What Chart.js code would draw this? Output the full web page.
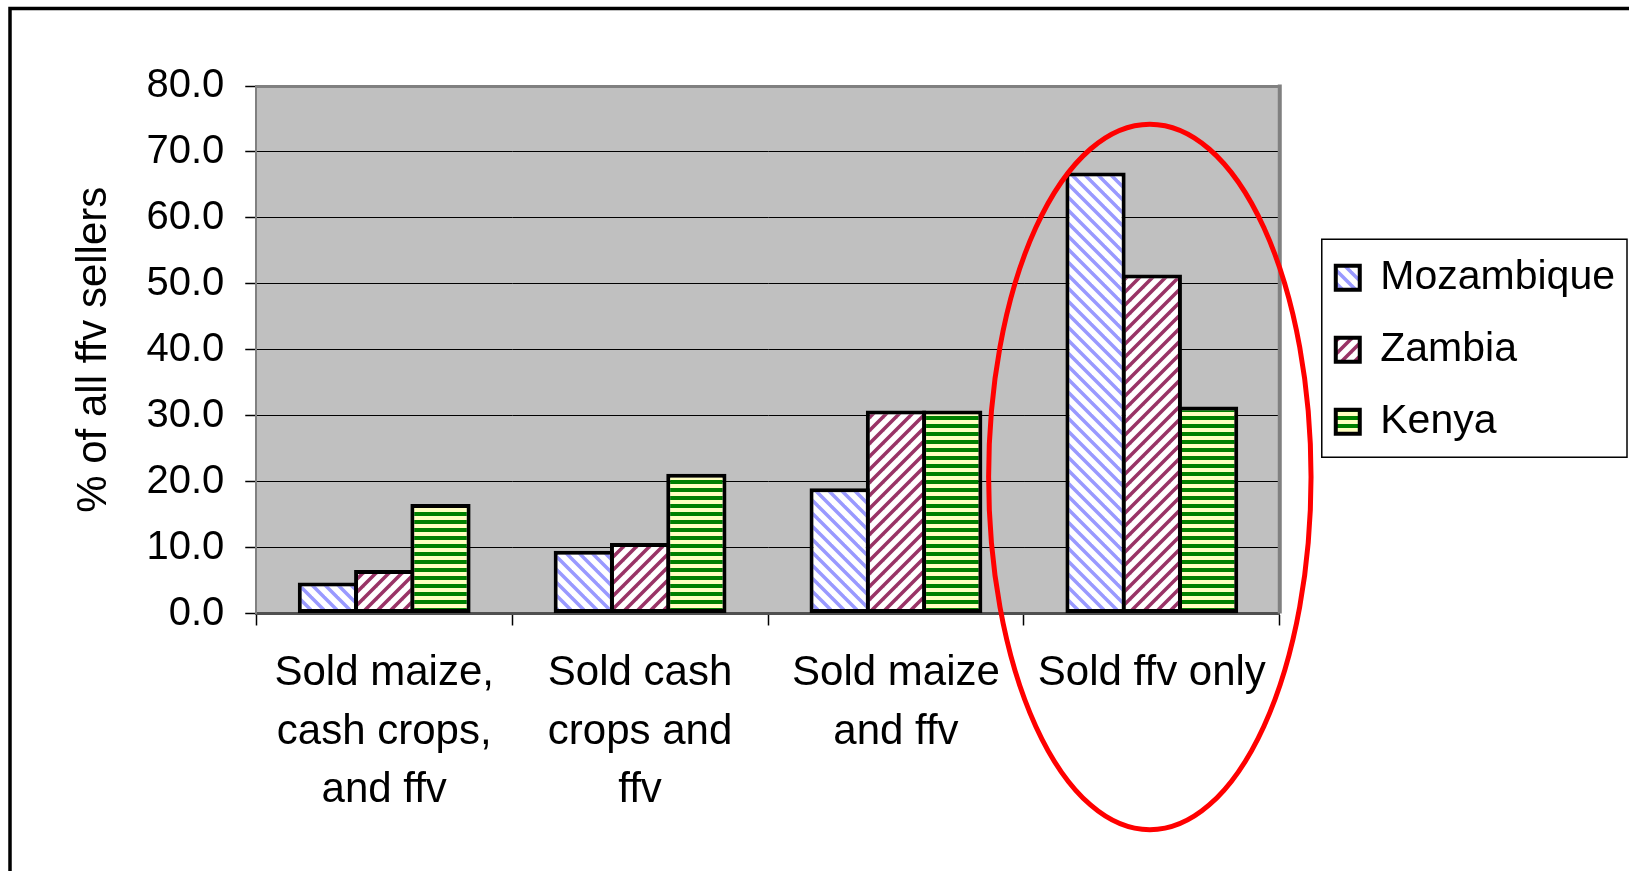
<!DOCTYPE html>
<html>
<head>
<meta charset="utf-8">
<script src="https://cdn.jsdelivr.net/npm/chart.js@4.4.1/dist/chart.umd.min.js"></script>
<style>
  html, body { margin: 0; padding: 0; background: #fff; }
</style>
</head>
<body>
<canvas id="myChart" width="1629" height="871"></canvas>
<script>
// data
const categories = [
  ["Sold maize,", "cash crops,", "and ffv"],
  ["Sold cash", "crops and", "ffv"],
  ["Sold maize", "and ffv"],
  ["Sold ffv only"]
];
const seriesNames = ["Mozambique", "Zambia", "Kenya"];
const mozambique = [4.7, 9.5, 19.0, 66.9];
const zambia = [6.6, 10.7, 30.8, 51.4];
const kenya = [16.6, 21.2, 30.8, 31.4];
const yTicks = [0, 10, 20, 30, 40, 50, 60, 70, 80];
const yTitle = "% of all ffv sellers";

const FONT = "'Liberation Sans', Arial, sans-serif";

// excel style fill patterns
function hatch(color, dir) {
  const s = 13;
  const c = document.createElement("canvas");
  c.width = s; c.height = s;
  const g = c.getContext("2d");
  g.fillStyle = "#fff";
  g.fillRect(0, 0, s, s);
  g.strokeStyle = color;
  g.lineWidth = 3.5;
  for (let k = -1; k <= 1; k++) {
    g.beginPath();
    if (dir === "down") {
      g.moveTo(k * s - 2, -2);
      g.lineTo(k * s + s + 2, s + 2);
    } else {
      g.moveTo(k * s - 2, s + 2);
      g.lineTo(k * s + s + 2, -2);
    }
    g.stroke();
  }
  return g.createPattern(c, "repeat");
}

function stripes() {
  const c = document.createElement("canvas");
  c.width = 8; c.height = 8;
  const g = c.getContext("2d");
  g.fillStyle = "#ffffc0";
  g.fillRect(0, 0, 8, 8);
  g.fillStyle = "#008000";
  g.fillRect(0, 0, 8, 4);
  return g.createPattern(c, "repeat");
}

const fills = [hatch("#9999ff", "down"), hatch("#993366", "up"), stripes()];
const values = [mozambique, zambia, kenya];

const frame = {
  id: "frame",
  beforeDraw(chart) {
    const { ctx, chartArea: a } = chart;
    ctx.save();
    ctx.fillStyle = "#fff";
    ctx.fillRect(0, 0, chart.width, chart.height);
    ctx.strokeStyle = "#000";
    ctx.lineWidth = 3.5;
    ctx.strokeRect(10, 8.5, 3000, 3000);
    ctx.fillStyle = "#c0c0c0";
    ctx.fillRect(a.left, a.top, a.right - a.left, a.bottom - a.top);
    ctx.restore();
  },
  afterLayout(chart) {
    // push the legend a little away from the plot, like Excel does
    const lg = chart.legend;
    lg.left += 25;
    lg.right += 25;
  },
  beforeDatasetsDraw(chart) {
    const { ctx, chartArea: a } = chart;
    ctx.save();
    ctx.strokeStyle = "#808080";
    ctx.lineWidth = 4;
    ctx.beginPath();
    ctx.moveTo(a.right, a.top - 1.5);
    ctx.lineTo(a.right, a.bottom);
    ctx.stroke();
    ctx.restore();
  },
  afterDraw(chart) {
    const { ctx, scales: { x, y } } = chart;
    ctx.save();
    // legend frame
    const hb = chart.legend.legendHitBoxes;
    if (hb && hb.length) {
      const l = Math.min(...hb.map(h => h.left)) - 14;
      const r = Math.max(...hb.map(h => h.left + h.width)) + 12;
      const t = hb[0].top - 18;
      const b = hb[hb.length - 1].top + hb[hb.length - 1].height + 15;
      ctx.strokeStyle = "#000";
      ctx.lineWidth = 1.5;
      ctx.strokeRect(l, t, r - l, b - t);
    }
    // red ellipse round the last group
    const cx = x.getPixelForValue(3) - 2;
    const rx = (x.getPixelForValue(3) - x.getPixelForValue(2)) * 0.63;
    const top = y.getPixelForValue(74.2);
    const bot = y.getPixelForValue(-32.8);
    ctx.strokeStyle = "#ff0000";
    ctx.lineWidth = 5;
    ctx.beginPath();
    ctx.ellipse(cx, (top + bot) / 2, rx, (bot - top) / 2, 0, 0, Math.PI * 2);
    ctx.stroke();
    ctx.restore();
  }
};

const data = {
  labels: categories,
  datasets: seriesNames.map((name, i) => ({
    label: name,
    data: values[i],
    backgroundColor: fills[i],
    borderColor: "#000",
    borderWidth: 4,
    borderSkipped: false,
    categoryPercentage: 0.66,
    barPercentage: 1.07
  }))
};

const options = {
  responsive: false,
  animation: false,
  devicePixelRatio: 1,
  layout: { padding: { left: 69, top: 86, right: 29, bottom: 32 } },
  plugins: {
    tooltip: { enabled: false },
    legend: {
      position: "right",
      align: "center",
      fullSize: false,
      labels: {
        font: { family: FONT, size: 41 },
        color: "#000",
        boxWidth: 24,
        boxHeight: 24,
        padding: 31
      }
    }
  },
  scales: {
    x: {
      grid: {
        display: true,
        drawOnChartArea: false,
        drawTicks: true,
        tickLength: 12,
        offset: true,
        tickColor: "#000",
        tickWidth: 1.5
      },
      border: { color: "#505050", width: 3 },
      ticks: {
        font: { family: FONT, size: 42, lineHeight: 1.393 },
        color: "#000",
        padding: 19,
        maxRotation: 0,
        autoSkip: false
      }
    },
    y: {
      min: 0,
      max: 80,
      afterBuildTicks: s => { s.ticks = yTicks.map(v => ({ value: v })); },
      grid: {
        color: c => (c.tick && c.tick.value === 80 ? "#808080" : "#000"),
        lineWidth: c => (c.tick && c.tick.value === 80 ? 3 : 1),
        tickLength: 11,
        tickColor: "#000",
        tickWidth: 1.5
      },
      border: { color: "#808080", width: 2 },
      ticks: {
        font: { family: FONT, size: 40 },
        color: "#000",
        padding: 21,
        callback: v => Number(v).toFixed(1)
      },
      title: {
        display: true,
        text: yTitle,
        font: { family: FONT, size: 42 },
        color: "#000",
        padding: { top: 0, bottom: 6 }
      }
    }
  }
};

const myChart = new Chart(document.getElementById("myChart").getContext("2d"), {
  type: "bar",
  data: data,
  options: options,
  plugins: [frame]
});
</script>
</body>
</html>
